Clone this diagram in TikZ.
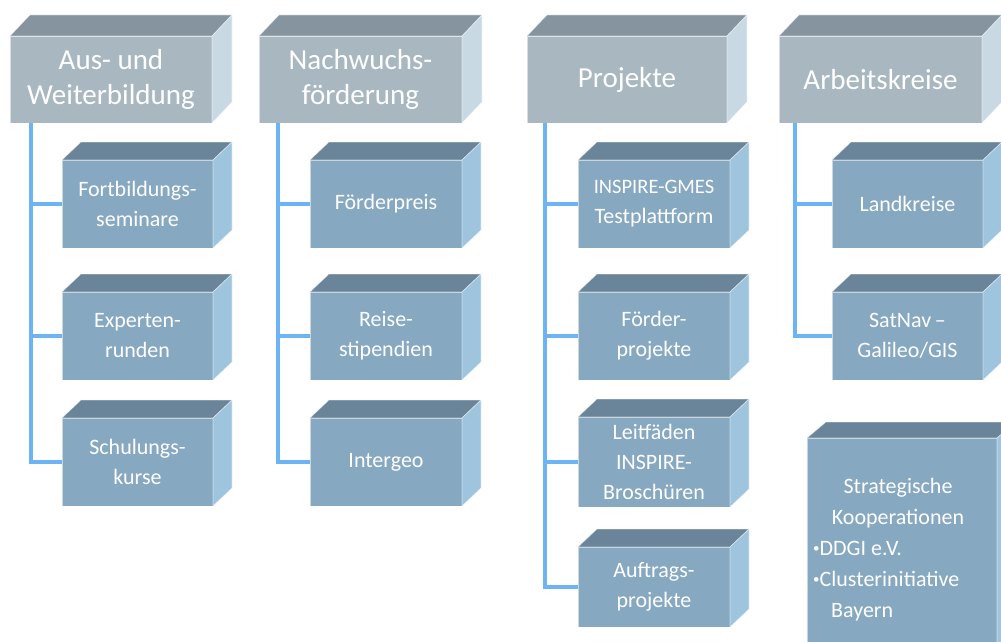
\documentclass[tikz,border=0pt]{standalone}
\usepackage{fontspec}
\setmainfont{Carlito}
\definecolor{hfc}{HTML}{A9B7C1}
\definecolor{htc}{HTML}{85949F}
\definecolor{hsc}{HTML}{C9D9E3}
\definecolor{cfc}{HTML}{86A8C0}
\definecolor{ctc}{HTML}{6A8599}
\definecolor{csc}{HTML}{9EC4DE}
\definecolor{linec}{HTML}{6CB4F4}
\tikzset{
  facebase/.style={inner sep=0pt, outer sep=0pt, anchor=north west, text=white, align=center,
    draw=white, draw opacity=0.55, line width=0.6pt},
  hfront/.style={facebase, fill=hfc, font=\fontsize{29}{35}\selectfont},
  cfront/.style={facebase, fill=cfc, font=\fontsize{22}{30}\selectfont},
  htop/.style={fill=htc, draw=white, draw opacity=0.55, line width=0.6pt},
  hside/.style={fill=hsc, draw=white, draw opacity=0.55, line width=0.6pt},
  ctop/.style={fill=ctc, draw=white, draw opacity=0.55, line width=0.6pt},
  cside/.style={fill=csc, draw=white, draw opacity=0.55, line width=0.6pt},
  conn/.style={draw=linec, line width=4.5pt},
  txt/.style={text=white, inner sep=0pt, font=\fontsize{22}{31}\selectfont},
}
\newcommand\cubefaces[5]{%
  \path[#4] (#1.north west) -- ++(#2,-#3) -- ([shift={(#2,-#3)}]#1.north east) -- (#1.north east) -- cycle;
  \path[#5] (#1.north east) -- ++(#2,-#3) -- ([shift={(#2,-#3)}]#1.south east) -- (#1.south east) -- cycle;}
\begin{document}
\begin{tikzpicture}[x=1pt,y=-1pt]
\clip (0,0) rectangle (1001,642);
\fill[white] (0,0) rectangle (1001,642);

% headers
\node[hfront, minimum width=202pt, minimum height=87pt] (h1) at (10,36) {Aus- und\\Weiterbildung};
\node[hfront, minimum width=203pt, minimum height=87pt] (h2) at (259,36) {Nachwuchs-\\förderung};
\node[hfront, minimum width=200pt, minimum height=87pt] (h3) at (527,36) {Projekte};
\node[hfront, minimum width=203pt, minimum height=87pt] (h4) at (779,36) {Arbeitskreise};
\foreach \n in {h1,h2,h3,h4}{\cubefaces{\n}{20}{21}{htop}{hside}}

% column 1
\node[cfront, minimum width=151pt, minimum height=88pt] (a1) at (62,160) {Fortbildungs-\\seminare};
\node[cfront, minimum width=151pt, minimum height=88pt] (a2) at (62,292) {Experten-\\runden};
\node[cfront, minimum width=151pt, minimum height=88pt] (a3) at (62,418) {Schulungs-\\kurse};
% column 2
\node[cfront, minimum width=152pt, minimum height=88pt] (b1) at (310,160) {Förderpreis};
\node[cfront, minimum width=152pt, minimum height=88pt] (b2) at (310,292) {Reise-\\stipendien};
\node[cfront, minimum width=152pt, minimum height=88pt] (b3) at (310,418) {Intergeo};
% column 3
\node[cfront, minimum width=152pt, minimum height=88pt] (p1) at (578,160) {{\fontsize{20.5}{28}\selectfont INSPIRE-GMES}\\Testplattform};
\node[cfront, minimum width=152pt, minimum height=88pt] (p2) at (578,292) {Förder-\\projekte};
\node[cfront, minimum width=152pt, minimum height=90pt] (p3) at (578,417) {Leitfäden\\INSPIRE-\\Broschüren};
\node[cfront, minimum width=152pt, minimum height=80pt] (p4) at (578,547) {Auftrags-\\projekte};
% column 4
\node[cfront, minimum width=151pt, minimum height=88pt] (k1) at (832,160) {Landkreise};
\node[cfront, minimum width=151pt, minimum height=88pt] (k2) at (832,292) {SatNav\,--\\Galileo/GIS};
\node[cfront, minimum width=190pt, minimum height=240pt] (st) at (807,438) {};
\foreach \n in {a1,a2,a3,b1,b2,b3,p1,p2,p3,p4,k1,k2}{\cubefaces{\n}{19}{18}{ctop}{cside}}
\cubefaces{st}{19}{16}{ctop}{cside}

\node[txt, align=center] (st1) at (898,503) {Strategische\\Kooperationen};
\node[txt, align=left, anchor=west] (st2) at (813,581) {\raisebox{0.3ex}{\fontsize{13}{13}\selectfont•}DDGI e.V.\\\raisebox{0.3ex}{\fontsize{13}{13}\selectfont•}Clusterinitiative\\\hspace*{18pt}Bayern};

% connectors
\foreach \c in {a1,a2,a3}{\draw[conn] ([xshift=21pt]h1.south west) |- (\c.west);}
\foreach \c in {b1,b2,b3}{\draw[conn] ([xshift=19pt]h2.south west) |- (\c.west);}
\foreach \c in {p1,p2,p3,p4}{\draw[conn] ([xshift=18pt]h3.south west) |- (\c.west);}
\foreach \c in {k1,k2}{\draw[conn] ([xshift=16pt]h4.south west) |- (\c.west);}
\end{tikzpicture}
\end{document}
